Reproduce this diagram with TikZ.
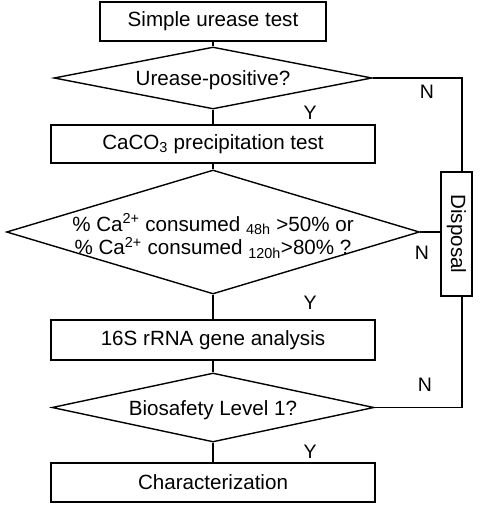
\documentclass[tikz,border=0pt]{standalone}
\usepackage{fontspec}
\setmainfont{Liberation Sans}
\usetikzlibrary{shapes.geometric}
\begin{document}
\begin{tikzpicture}[x=1pt,y=-1pt,
  every node/.style={font=\fontsize{20.6}{23.5}\selectfont},
  box/.style={draw, rectangle, line width=1.4pt, inner sep=0pt},
  dia/.style={draw, diamond, line width=1.4pt, inner sep=0pt},
  conn/.style={line width=1.4pt},
  yn/.style={font=\fontsize{19.5}{22}\selectfont}]
\useasboundingbox (0,0) rectangle (484,505);
\node[box, minimum width=226, minimum height=39] (b1) at (213,21.5) {Simple urease test};
\node[dia, minimum width=318, minimum height=62] (d1) at (213,78) {};
\node (t1) at (213,80) {Urease-positive?};
\node[box, minimum width=324, minimum height=38] (b2) at (213,144) {CaCO\textsubscript{3} precipitation test};
\node[dia, minimum width=413, minimum height=124] (d2) at (213,232) {};
\node[align=center] (t2) at (213,236) {\% Ca\textsuperscript{2+} consumed \textsubscript{48h} >50\% or\\\% Ca\textsuperscript{2+} consumed \textsubscript{120h}>80\% ?};
\node[box, minimum width=31, minimum height=124] (disp) at (456.5,234) {};
\node[rotate=-90] (tdisp) at (disp) {Disposal};
\node[box, minimum width=324, minimum height=40] (b3) at (213,340) {16S rRNA gene analysis};
\node[dia, minimum width=322, minimum height=69] (d3) at (213,407.5) {};
\node (t3) at (213,410) {Biosafety Level 1?};
\node[box, minimum width=324, minimum height=39] (b4) at (213,482.5) {Characterization};
\draw[conn] (b1) -- (d1);
\draw[conn] (d1) -- (b2);
\draw[conn] (b2) -- (d2);
\draw[conn] (d2) -- (b3);
\draw[conn] (b3) -- (d3);
\draw[conn] (d3) -- (b4);
\draw[conn] (d1.east) -| ([xshift=5.5pt]disp.north);
\draw[conn] (d2.east) -- (d2.east -| disp.west);
\draw[conn] (d3.east) -| ([xshift=5.5pt]disp.south);
\node[yn] (n1) at (427,92) {N};
\node[yn] (n2) at (422,253) {N};
\node[yn] (n3) at (425,385) {N};
\node[yn] (y1) at (310,113) {Y};
\node[yn] (y2) at (310,303) {Y};
\node[yn] (y3) at (310,452) {Y};
\end{tikzpicture}
\end{document}
